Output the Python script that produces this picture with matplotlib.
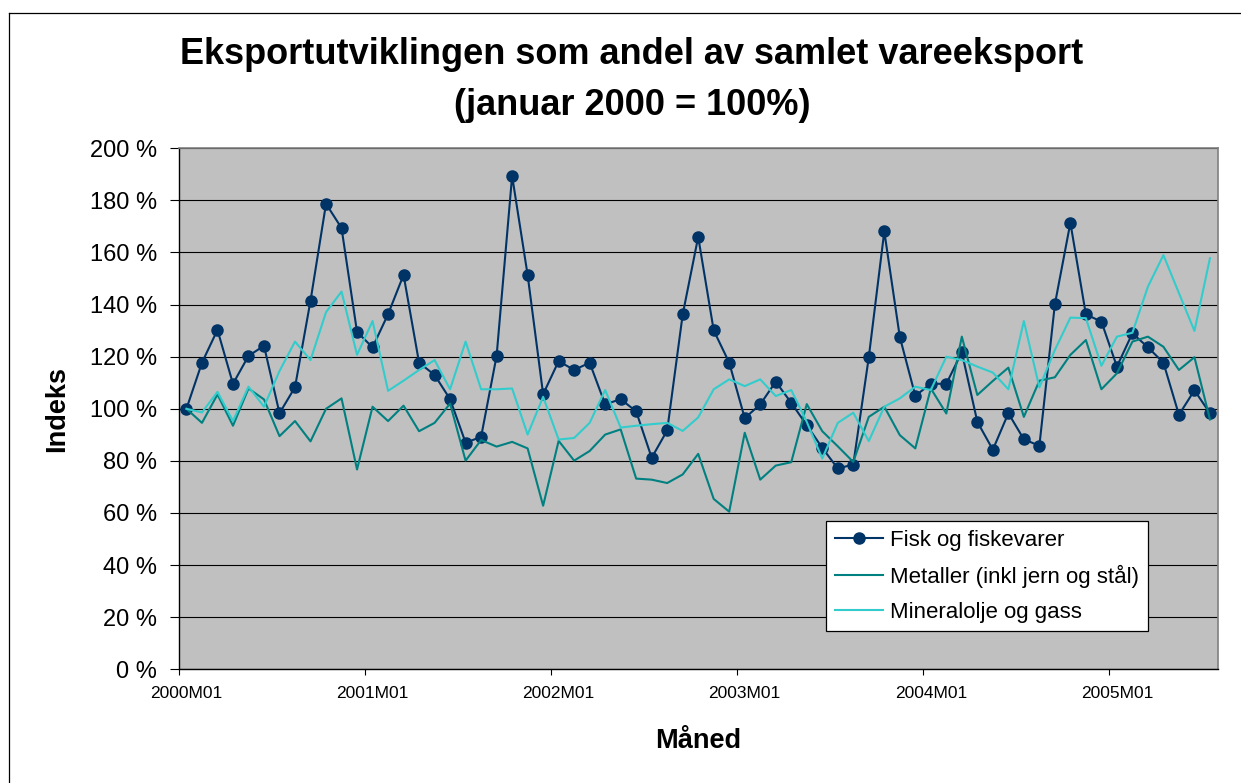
import matplotlib
matplotlib.use("Agg")
import matplotlib.pyplot as plt
from matplotlib.lines import Line2D

plt.rcParams['font.family'] = ['Liberation Sans', 'DejaVu Sans']

# monthly categories 2000M01 .. 2005M07
months = [f"{y}M{m:02d}" for y in range(2000, 2006) for m in range(1, 13)][:67]
tick_labels = ["2000M01", "2001M01", "2002M01", "2003M01", "2004M01", "2005M01"]

fisk = [100, 117.7, 130.3, 109.6, 120.3, 124.2, 98.3, 108.3, 141.5, 178.7,
        169.4, 129.5, 123.6, 136.3, 151.4, 117.7, 113, 103.7, 87, 89.2,
        120.3, 189.4, 151.4, 105.6, 118.3, 114.9, 117.7, 101.7, 103.7, 99,
        81.2, 91.7, 136.2, 166, 130.1, 117.7, 96.4, 101.7, 110.4, 102.3,
        93.7, 85, 77.1, 78.6, 119.8, 168.1, 127.6, 105, 109.6, 109.6,
        121.7, 95, 84.3, 98.3, 88.3, 85.8, 140.1, 171.4, 136.2, 133.5,
        116.2, 129, 123.6, 117.7, 97.7, 107.1, 98.3]
metaller = [100, 94.6, 105.5, 93.5, 107.8, 103.6, 89.5, 95.3, 87.5, 100,
            104, 76.7, 100.8, 95.3, 101.2, 91.4, 94.6, 102, 80.1, 88,
            85.5, 87.3, 84.8, 62.8, 87.7, 80.1, 83.8, 90.1, 92.1, 73.2,
            72.8, 71.5, 74.8, 82.7, 65.4, 60.5, 90.8, 72.8, 78.2, 79.5,
            101.8, 91.4, 85.6, 79.6, 96.9, 100.8, 89.9, 84.8, 107.8, 98.2,
            127.7, 105.3, 110.7, 115.8, 96.9, 110.8, 112.1, 120.7, 126.4, 107.5,
            113.6, 125.8, 127.7, 123.8, 114.9, 119.8, 95.9]
mineral = [100, 98.6, 106.5, 95.3, 108.5, 100.8, 114.5, 125.8, 118.7, 137.1,
           145, 120.7, 133.7, 106.9, 110.8, 114.9, 118.7, 107.5, 125.8, 107.5,
           107.5, 107.8, 90.1, 104.6, 88.2, 88.8, 94.6, 107.2, 92.8, 93.5,
           94.1, 94.6, 91.5, 96.7, 107.5, 111.3, 108.7, 111.3, 104.9, 107.2,
           95, 80.9, 94.6, 98.5, 87.6, 100.8, 104, 108.5, 107.2, 120,
           118.7, 116.2, 113.9, 107.5, 133.7, 108.2, 122.6, 135, 134.8, 116.5,
           127.7, 129.2, 146.9, 159, 144.4, 129.9, 157.8]

W, H = 1241, 783
fig = plt.figure(figsize=(W / 100, H / 100), dpi=100)

# outer chart border (only left and top visible in the crop)
fig.add_artist(Line2D([9 / W, 9 / W], [0, 1 - 13 / H], color="black", lw=0.9,
                      transform=fig.transFigure))
fig.add_artist(Line2D([9 / W, 1], [1 - 13 / H, 1 - 13 / H], color="black", lw=0.9,
                      transform=fig.transFigure))

left, right, top, bottom = 178.7, 1217.7, 148.3, 669.3
ax = fig.add_axes([left / W, 1 - bottom / H, (right - left) / W, (bottom - top) / H])
ax.set_facecolor("#C0C0C0")

x = range(len(months))
ax.plot(x, fisk, color="#003366", lw=1.5, marker="o", ms=8,
        label="Fisk og fiskevarer")
ax.plot(x, metaller, color="#008080", lw=1.5, label="Metaller (inkl jern og stål)")
ax.plot(x, mineral, color="#33CCCC", lw=1.5, label="Mineralolje og gass")

ax.set_xlim(-0.5, len(months) - 0.5)
ax.set_ylim(0, 200)
yt = list(range(0, 201, 20))
ax.set_yticks(yt)
ax.set_yticklabels([f"{v} %" for v in yt], fontsize=17)
ax.yaxis.grid(True, color="black", lw=0.8)
ax.set_axisbelow(True)
ax.tick_params(axis="y", direction="out", length=6.5, width=0.8, pad=9)

pos = [months.index(t) for t in tick_labels]
ax.set_xticks([p - 0.5 for p in pos])
ax.set_xticklabels([])
ax.set_xticks(pos, minor=True)
ax.set_xticklabels(tick_labels, minor=True, fontsize=12.5)
ax.tick_params(axis="x", which="major", direction="out", length=4, width=0.8)
ax.tick_params(axis="x", which="minor", length=0, pad=12)

for s in ("left", "bottom"):
    ax.spines[s].set_color("black")
    ax.spines[s].set_linewidth(1.0)
for s in ("top", "right"):
    ax.spines[s].set_color("#808080")
    ax.spines[s].set_linewidth(1.2)

leg = ax.legend(loc="upper left", bbox_to_anchor=((825.7 - left) / (right - left),
                                                   (bottom - 521) / (bottom - top)),
                fontsize=16, frameon=True, fancybox=False, framealpha=1,
                edgecolor="black", borderaxespad=0, handlelength=2.2,
                handletextpad=0.3, labelspacing=0.62, borderpad=0.4)
leg.get_frame().set_linewidth(0.9)

fig.text(632 / W, 1 - 64.3 / H, "Eksportutviklingen som andel av samlet vareeksport",
         ha="center", va="baseline", fontsize=26, fontweight="bold")
fig.text(632 / W, 1 - 115 / H, "(januar 2000 = 100%)",
         ha="center", va="baseline", fontsize=26, fontweight="bold")
fig.text(57 / W, 1 - 409 / H, "Indeks", rotation=90, ha="center", va="center",
         fontsize=19.5, fontweight="bold")
fig.text(698 / W, 1 - 741 / H, "Måned", ha="center", va="center",
         fontsize=19.5, fontweight="bold")

fig.savefig("out.png", dpi=100)
